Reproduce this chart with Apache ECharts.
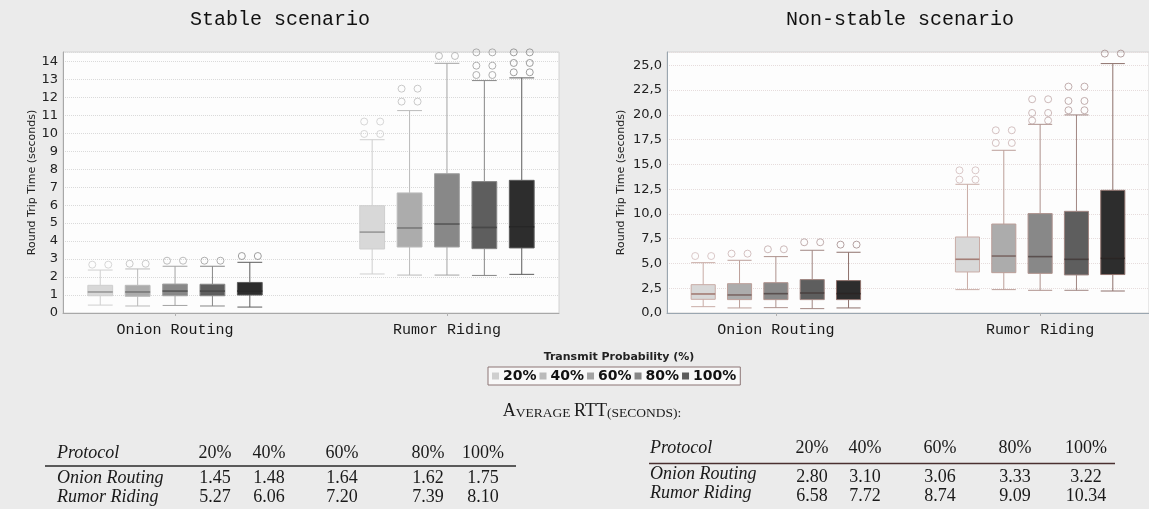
<!DOCTYPE html>
<html>
<head>
<meta charset="utf-8">
<script src="https://cdn.jsdelivr.net/npm/echarts@6/dist/echarts.min.js"></script>
<style>
  html, body { margin: 0; padding: 0; background: #ebebeb; }
  #main { width: 1149px; height: 509px; }
</style>
</head>
<body>
<div id="main"></div>
<script>
// categories
var groups = ['Onion Routing', 'Rumor Riding'];
var probs = ['20%', '40%', '60%', '80%', '100%'];

// box stats per probability: [lower whisker, Q1, median, Q3, upper whisker]
var stableOnion = [[0.44, 0.96, 1.17, 1.54, 2.39], [0.39, 0.93, 1.17, 1.54, 2.45], [0.42, 0.96, 1.22, 1.61, 2.60], [0.39, 0.96, 1.22, 1.60, 2.60], [0.33, 1.00, 1.22, 1.70, 2.82]];
var stableRumor = [[2.17, 3.56, 4.50, 5.97, 9.64], [2.11, 3.67, 4.73, 6.68, 11.26], [2.11, 3.67, 4.95, 7.75, 13.89], [2.09, 3.58, 4.76, 7.31, 12.93], [2.15, 3.62, 4.79, 7.38, 13.08]];
var stableOnionOut = [[2.69], [2.74], [2.91], [2.91], [3.17]];
var stableRumorOut = [[9.96, 10.65], [11.76, 12.48], [14.30], [13.24, 13.76, 14.50], [13.39, 13.91, 14.50]];

var nonStableOnion = [[0.64, 1.38, 1.92, 2.86, 5.08], [0.51, 1.35, 1.82, 2.96, 5.32], [0.54, 1.35, 1.95, 3.06, 5.69], [0.44, 1.35, 2.02, 3.37, 6.33], [0.51, 1.35, 1.95, 3.27, 6.13]];
var nonStableRumor = [[2.36, 4.14, 5.42, 7.67, 12.99], [2.36, 4.07, 5.75, 8.98, 16.42], [2.29, 4.00, 5.69, 10.03, 19.04], [2.29, 3.84, 5.42, 10.26, 19.99], [2.22, 3.88, 5.52, 12.38, 25.17]];
var nonStableOnionOut = [[5.75], [5.99], [6.43], [7.14], [6.90]];
var nonStableRumorOut = [[13.46, 14.40], [17.16, 18.44], [19.42, 20.19, 21.57], [20.46, 21.40, 22.85], [26.18]];

// average RTT tables
var avgStableOnion = [1.45, 1.48, 1.64, 1.62, 1.75];
var avgStableRumor = [5.27, 6.06, 7.20, 7.39, 8.10];
var avgNonStableOnion = [2.80, 3.10, 3.06, 3.33, 3.22];
var avgNonStableRumor = [6.58, 7.72, 8.74, 9.09, 10.34];

var fills = ['#d8d8d8', '#acacac', '#888888', '#5e5e5e', '#2d2d2d'];
var dodge = 0.1375; // box spacing inside a group, in group units

var panels = [
  {
    title: 'Stable scenario', titleX: 280,
    boxes: [stableOnion, stableRumor], outliers: [stableOnionOut, stableRumorOut],
    grid: { left: 63, top: 52, width: 496, height: 261 },
    yMax: 14.52, yStep: 1, dec: 0, nameGap: 24,
    lines: ['#cfcfcf', '#bababa', '#a3a3a3', '#878787', '#5c5c5c'],
    medians: ['#8a8a8a', '#686868', '#444444', '#3a3a3a', '#1a1a1a'],
    rings: ['#cdcdcd', '#bdbdbd', '#adadad', '#9c9c9c', '#878787'],
    split: '#dadada', axis: '#a8a8a8'
  },
  {
    title: 'Non-stable scenario', titleX: 900,
    boxes: [nonStableOnion, nonStableRumor], outliers: [nonStableOnionOut, nonStableRumorOut],
    grid: { left: 667, top: 52, width: 482, height: 261 },
    yMax: 26.34, yStep: 2.5, dec: 1, nameGap: 40,
    lines: ['#c9aca6', '#bc9f99', '#ae928d', '#a08682', '#8e716c'],
    medians: ['#9a7068', '#6a5a58', '#464040', '#333030', '#151515'],
    rings: ['#d2bcbc', '#cab3b3', '#c0a9a9', '#b39b9b', '#a38b8b'],
    split: '#e6dcdc', axis: '#9aa6b0'
  }
];

var grids = [], xAxes = [], yAxes = [], series = [];

panels.forEach(function (p, c) {
  grids.push(Object.assign({ show: true, backgroundColor: '#fdfdfd', borderColor: '#d2d2d2', borderWidth: 1 }, p.grid));

  yAxes.push({
    type: 'value', gridIndex: c, min: 0, max: p.yMax, interval: p.yStep,
    name: 'Round Trip Time (seconds)', nameLocation: 'middle', nameGap: p.nameGap,
    nameTextStyle: { fontFamily: 'DejaVu Sans', fontSize: 11, color: '#222' },
    axisLine: { show: true, onZero: false, lineStyle: { color: p.axis } },
    axisTick: { show: false },
    axisLabel: {
      showMaxLabel: false, margin: 5, fontFamily: 'DejaVu Sans', fontSize: 13, color: '#222',
      formatter: function (v) { return v.toFixed(p.dec).replace('.', ','); }
    },
    splitLine: { show: true, lineStyle: { color: p.split, type: 'dotted' } }
  });

  probs.forEach(function (name, i) {
    var ax = xAxes.length;
    var labelAxis = i === 0;
    xAxes.push({
      type: 'value', gridIndex: c, position: 'bottom', min: -0.412, max: 1.412, show: labelAxis,
      axisLine: { show: true, onZero: false, lineStyle: { color: p.axis } },
      axisTick: { show: true, customValues: [0, 1], length: 3, lineStyle: { color: '#b0b0b0' } },
      axisLabel: {
        customValues: [0, 1], margin: 10,
        fontFamily: 'Liberation Mono', fontSize: 15, color: '#1a1a1a',
        formatter: function (v) { return groups[Math.round(v)] || ''; }
      },
      splitLine: { show: false }
    });

    var boxData = [], medData = [], outData = [];
    groups.forEach(function (g, gi) {
      var x = gi + (i - 2) * dodge;
      var s = p.boxes[gi][i];
      boxData.push([x].concat(s));
      medData.push([x, s[2]]);
      p.outliers[gi][i].forEach(function (v) {
        outData.push({ value: [x, v], symbolOffset: [-8, 0] });
        outData.push({ value: [x, v], symbolOffset: [8, 0] });
      });
    });

    series.push({
      name: name, type: 'boxplot', xAxisIndex: ax, yAxisIndex: c,
      boxWidth: ['10%', '10%'],
      itemStyle: { color: fills[i], borderColor: p.lines[i], borderWidth: 1 },
      data: boxData
    });
    series.push({
      name: name, type: 'scatter', xAxisIndex: ax, yAxisIndex: c, silent: true,
      symbol: 'rect', symbolSize: [c === 0 ? 25 : 24, 1.6], z: 3,
      itemStyle: { color: p.medians[i] },
      data: medData
    });
    series.push({
      name: name, type: 'scatter', xAxisIndex: ax, yAxisIndex: c, silent: true,
      symbol: 'circle', symbolSize: 7, z: 3,
      itemStyle: { color: 'rgba(255,255,255,0)', borderColor: p.rings[i], borderWidth: 1 },
      data: outData
    });
  });
});

// free text: titles, legend caption, table
function txt(x, y, s, font, align, fill) {
  return {
    type: 'text', x: x, y: y, silent: true,
    style: {
      text: s, font: font, fill: fill || '#1a1a1a',
      align: align || 'center', textAlign: align || 'center',
      verticalAlign: 'middle', textVerticalAlign: 'middle'
    }
  };
}

var graphics = [];
panels.forEach(function (p) {
  graphics.push(txt(p.titleX, 20, p.title, '20px "Liberation Mono"', 'center', '#111'));
});
graphics.push(txt(619, 357, 'Transmit Probability (%)', 'bold 11px "DejaVu Sans"', 'center', '#222'));
graphics.push({
  type: 'text', x: 592, y: 411, silent: true,
  style: {
    text: '{b|A}{s|VERAGE }{b|RTT}{s|(SECONDS):}',
    align: 'center', textAlign: 'center', verticalAlign: 'middle', textVerticalAlign: 'middle',
    fill: '#1a1a1a',
    rich: {
      b: { fontFamily: 'Liberation Serif', fontSize: 18, verticalAlign: 'bottom', fill: '#1a1a1a' },
      s: { fontFamily: 'Liberation Serif', fontSize: 13.5, verticalAlign: 'bottom', fill: '#1a1a1a' }
    }
  }
});

var tables = [
  { rows: [[groups[0], avgStableOnion], [groups[1], avgStableRumor]],
    x0: 57, cols: [215, 269, 342, 428, 483], line: [45, 516], yHead: 453, yLine: 466, yRows: [478, 497], valShift: 0, lineColor: '#2a2a2a' },
  { rows: [[groups[0], avgNonStableOnion], [groups[1], avgNonStableRumor]],
    x0: 650, cols: [812, 865, 940, 1015, 1086], line: [649, 1115], yHead: 448, yLine: 463.5, yRows: [474, 493], valShift: 3, lineColor: '#4a3030' }
];
var serif = '18px "Liberation Serif"', serifIt = 'italic 18px "Liberation Serif"';
tables.forEach(function (t) {
  graphics.push(txt(t.x0, t.yHead, 'Protocol', serifIt, 'left'));
  probs.forEach(function (h, k) { graphics.push(txt(t.cols[k], t.yHead, h, serif)); });
  graphics.push({ type: 'line', silent: true, shape: { x1: t.line[0], y1: t.yLine, x2: t.line[1], y2: t.yLine }, style: { stroke: t.lineColor, lineWidth: 1.5 } });
  t.rows.forEach(function (r, ri) {
    graphics.push(txt(t.x0, t.yRows[ri], r[0], serifIt, 'left'));
    r[1].forEach(function (v, k) { graphics.push(txt(t.cols[k], t.yRows[ri] + t.valShift, v.toFixed(2), serif)); });
  });
});

var chart = echarts.init(document.getElementById('main'), null, { renderer: 'canvas', width: 1149, height: 509 });
chart.setOption({
  backgroundColor: '#ebebeb',
  animation: false,
  grid: grids,
  xAxis: xAxes,
  yAxis: yAxes,
  legend: {
    data: probs, left: 488, top: 367, orient: 'horizontal',
    icon: 'rect', itemWidth: 5, itemHeight: 5, itemGap: 3,
    padding: [2, 4], borderColor: '#8c7474', borderWidth: 1, backgroundColor: '#f8f8f8',
    textStyle: { fontFamily: 'DejaVu Sans', fontWeight: 'bold', fontSize: 14, color: '#111' }
  },
  graphic: graphics,
  series: series
});
</script>
</body>
</html>
